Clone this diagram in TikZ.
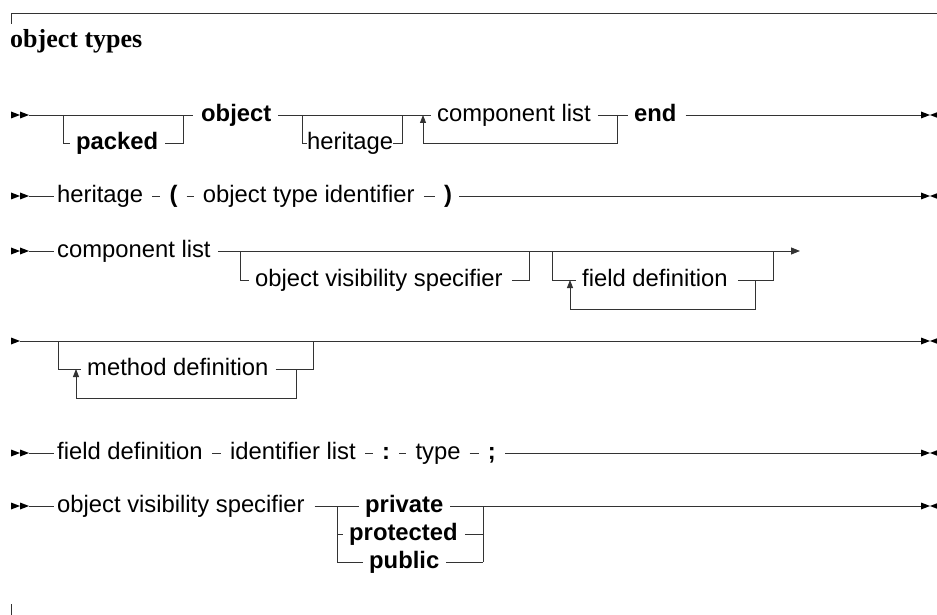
\documentclass[tikz,border=0pt]{standalone}
\usepackage{fontspec}
\setmainfont{Liberation Sans}
\newfontfamily\titlefont{Liberation Serif}
\usetikzlibrary{arrows.meta,positioning}
\tikzset{
  trk/.style={draw=black!80, line width=0.85bp},
  tok/.style={inner sep=0pt, text height=12.6bp, text depth=0pt, anchor=west,
              font=\fontsize{23.8bp}{28bp}\selectfont},
  kw/.style={tok, font=\fontsize{23.8bp}{28bp}\selectfont\bfseries},
  gl/.style={shorten <=7bp},
  gr/.style={shorten >=6bp},
  tdash/.style={shorten <=9bp, shorten >=9bp},
  uparr/.style={-{Triangle[width=6bp,length=8bp]}},
}
\newcommand\rrStart[1]{\fill[black] (#1) ++(0,-3.5) -- ++(9,3.5) -- ++(-9,3.5) -- cycle;
  \fill[black] (#1) ++(9,-3.5) -- ++(9,3.5) -- ++(-9,3.5) -- cycle;}
\newcommand\rrOne[1]{\fill[black] (#1) ++(0,-3.5) -- ++(9,3.5) -- ++(-9,3.5) -- cycle;}
\newcommand\rrEnd[1]{\fill[black] (#1) -- ++(-9,-3.5) -- ++(0,7) -- cycle;
  \fill[black] (#1) -- ++(9,-3.5) -- ++(0,7) -- cycle;}
\begin{document}
\begin{tikzpicture}[x=1bp,y=-1bp]
\useasboundingbox (0,0) rectangle (937,615);
% frame and title
\draw[trk] (11,24) -- (11,13) -- (937,13);
\draw[trk] (11,604) -- (11,615);
\node[inner sep=0pt, anchor=base west, font=\titlefont\bfseries\fontsize{26bp}{30bp}\selectfont] (title) at (10,48) {object types};

% ---------- row 1 ----------
\rrStart{11,115}
\coordinate (r1s) at (29,115);
\coordinate (p1a) at (63,115); \coordinate (p1b) at (183,115);
\coordinate (p1c) at (63,143); \coordinate (p1d) at (183,143);
\node[kw] (packed) at (76,143) {packed};
\node[kw] (object) at (201,115) {object};
\coordinate (h1a) at (302,115); \coordinate (h1b) at (402,115);
\coordinate (h1c) at (302,143); \coordinate (h1d) at (402,143);
\node[tok] (her1) at (307,143) {heritage};
\node[tok] (cl1) at (437,115) {component list};
\coordinate (l1a) at (617,115); \coordinate (l1b) at (617,143);
\coordinate (l1c) at (423,143); \coordinate (l1d) at (423,115);
\node[kw] (end1) at (634,115) {end};
\coordinate (r1e) at (921,115); \coordinate (r1m) at (930,115);
\draw[trk, shorten >=8bp] (r1s) -- (object.west);
\draw[trk,gr] (p1a) -- (p1c) -- (packed.west);
\draw[trk,gl] (packed.east) -- (p1d) -- (p1b);
\draw[trk,gl,gr] (object.east) -- (cl1.west);
\draw[trk] (h1a) -- (h1c) -- (her1.west);
\draw[trk] (her1.east) -- (h1d) -- (h1b);
\draw[trk,gl,gr] (cl1.east) -- (end1.west);
\draw[trk,uparr] (l1a) -- (l1b) -- (l1c) -- (l1d);
\draw[trk,shorten <=9bp] (end1.east) -- (r1e);
\rrEnd{r1m}

% ---------- row 2 ----------
\rrStart{11,196}
\coordinate (r2s) at (29,196);
\node[tok] (her2) at (57,196) {heritage};
\node[kw, right=26bp of her2] (lp) {(};
\node[tok, right=25bp of lp] (oti) {object type identifier};
\node[kw, right=29bp of oti] (rp) {)};
\coordinate (r2e) at (921,196); \coordinate (r2m) at (930,196);
\draw[trk, shorten >=3bp] (r2s) -- (her2.west);
\draw[trk,tdash] (her2.east) -- (lp.west);
\draw[trk,tdash] (lp.east) -- (oti.west);
\draw[trk,tdash] (oti.east) -- (rp.west);
\draw[trk,gl] (rp.east) -- (r2e);
\rrEnd{r2m}

% ---------- row 3 ----------
\rrStart{11,251}
\coordinate (r3s) at (29,251);
\node[tok] (cl3) at (57,251) {component list};
\coordinate (a3a) at (240,251); \coordinate (a3b) at (240,280);
\coordinate (a3c) at (529,280); \coordinate (a3d) at (529,251);
\node[tok] (ovs3) at (255,280) {object visibility specifier};
\coordinate (b3a) at (552,251); \coordinate (b3b) at (552,280);
\coordinate (b3c) at (773,280); \coordinate (b3d) at (773,251);
\node[tok] (fd3) at (582,280) {field definition};
\coordinate (b3e) at (755,280); \coordinate (b3f) at (755,309);
\coordinate (b3g) at (570,309); \coordinate (b3h) at (570,280);
\coordinate (r3e) at (800,251);
\draw[trk, shorten >=3bp] (r3s) -- (cl3.west);
\draw[trk,gl,-{Triangle[width=7bp,length=9bp]}] (cl3.east) -- (r3e);
\draw[trk,gr] (a3a) -- (a3b) -- (ovs3.west);
\draw[trk,shorten <=9bp] (ovs3.east) -- (a3c) -- (a3d);
\draw[trk,gr] (b3a) -- (b3b) -- (fd3.west);
\draw[trk,shorten <=10bp] (fd3.east) -- (b3c) -- (b3d);
\draw[trk,uparr] (b3e) -- (b3f) -- (b3g) -- (b3h);

% ---------- row 4 ----------
\rrOne{11,341}
\coordinate (r4s) at (20,341); \coordinate (r4e) at (921,341); \coordinate (r4m) at (930,341);
\coordinate (c4a) at (58,341); \coordinate (c4b) at (58,369);
\coordinate (c4c) at (313,369); \coordinate (c4d) at (313,341);
\node[tok] (md4) at (87,369) {method definition};
\coordinate (c4e) at (296,369); \coordinate (c4f) at (296,398);
\coordinate (c4g) at (76,398); \coordinate (c4h) at (76,369);
\draw[trk] (r4s) -- (r4e);
\draw[trk,gr] (c4a) -- (c4b) -- (md4.west);
\draw[trk,gl] (md4.east) -- (c4c) -- (c4d);
\draw[trk,uparr] (c4e) -- (c4f) -- (c4g) -- (c4h);
\rrEnd{r4m}

% ---------- row 5 ----------
\rrStart{11,453}
\coordinate (r5s) at (29,453);
\node[tok] (fd5) at (57,453) {field definition};
\node[tok, right=27bp of fd5] (il5) {identifier list};
\node[kw, right=26bp of il5] (col5) {:};
\node[tok, right=25bp of col5] (ty5) {type};
\node[kw, right=27bp of ty5] (sc5) {;};
\coordinate (r5e) at (921,453); \coordinate (r5m) at (930,453);
\draw[trk, shorten >=3bp] (r5s) -- (fd5.west);
\draw[trk,tdash] (fd5.east) -- (il5.west);
\draw[trk,tdash] (il5.east) -- (col5.west);
\draw[trk,tdash] (col5.east) -- (ty5.west);
\draw[trk,tdash] (ty5.east) -- (sc5.west);
\draw[trk,shorten <=9bp] (sc5.east) -- (r5e);
\rrEnd{r5m}

% ---------- row 6 ----------
\rrStart{11,506}
\coordinate (r6s) at (29,506);
\node[tok] (ovs6) at (57,506) {object visibility specifier};
\coordinate (d6a) at (337,506); \coordinate (d6b) at (337,562);
\coordinate (d6c) at (483,506); \coordinate (d6d) at (483,562);
\coordinate (d6e) at (337,534); \coordinate (d6f) at (483,534);
\node[kw] (priv) at (365,506) {private};
\node[kw] (prot) at (349,534) {protected};
\node[kw] (pub) at (369,562) {public};
\coordinate (r6e) at (921,506); \coordinate (r6m) at (930,506);
\draw[trk, shorten >=3bp] (r6s) -- (ovs6.west);
\draw[trk,shorten <=10bp,gr] (ovs6.east) -- (priv.west);
\draw[trk] (d6a) -- (d6b);
\draw[trk] (d6c) -- (d6d);
\draw[trk,gl] (priv.east) -- (r6e);
\draw[trk,gr] (d6e) -- (prot.west);
\draw[trk,gl] (prot.east) -- (d6f);
\draw[trk,gr] (d6b) -- (pub.west);
\draw[trk,gl] (pub.east) -- (d6d);
\rrEnd{r6m}
\end{tikzpicture}
\end{document}
